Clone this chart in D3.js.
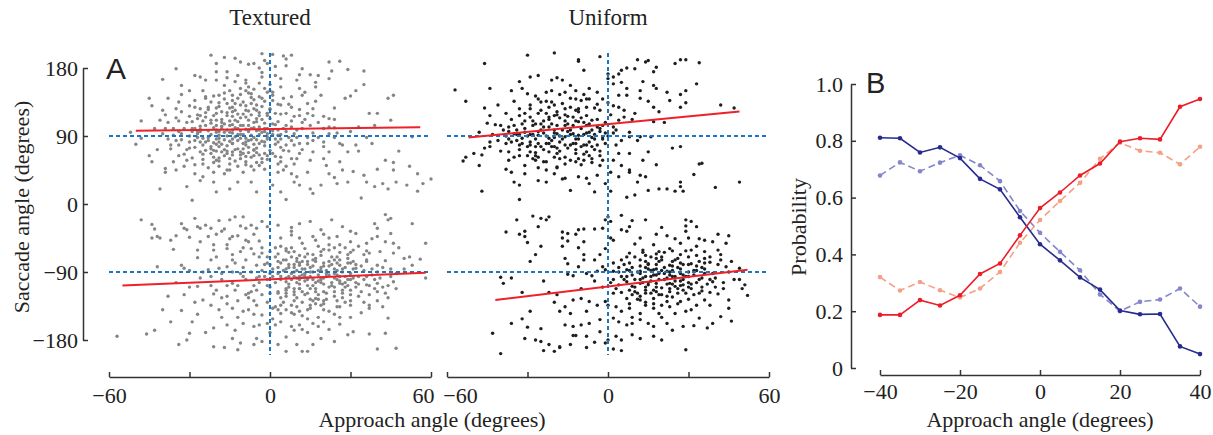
<!DOCTYPE html>
<html>
<head>
<meta charset="utf-8">
<script src="https://cdn.jsdelivr.net/npm/d3@7"></script>
<style>
  html, body { margin: 0; padding: 0; background: #fff; }
  svg { display: block; }
  text { font-family: "Liberation Serif", "Times New Roman", serif; fill: #222; }
  .axis path, .axis line { stroke: #333; stroke-width: 1.5; }
  .axis text { font-size: 22px; font-family: "Liberation Serif", "Times New Roman", serif; fill: #222; }
</style>
</head>
<body>
<svg id="chart" width="1213" height="435"></svg>
<script>
// ---- data ----
const texturedUpper = [[-22,197],[-17,194],[-13,193],[-3,199],[-2,190],[1,198],[5,196],[6,192],[8,197],[-20,186],[-11,188],[-6,186],[-1,186],[6,183],[12,179],[22,188],[26,189],[29,178],[23,176],[35,176],[-35,179],[11,171],[15,171],[-12,170],[-16,167],[-20,164],[-26,168],[-28,170],[-9,164],[-3,168],[4,166],[10,164],[17,161],[22,166],[35,158],[-33,157],[-17,157],[-11,153],[-8,155],[-2,153],[4,155],[11,153],[17,155],[-30,150],[-24,142],[-19,144],[-14,144],[-7,146],[-1,148],[1,144],[8,142],[12,144],[19,144],[30,143],[46,144],[44,140],[-38,140],[-44,130],[-34,135],[-28,137],[-23,128],[-16,133],[-10,135],[-5,131],[0,126],[4,131],[8,128],[14,133],[24,127],[-40,124],[-33,122],[-26,117],[-20,120],[-14,122],[-9,124],[-1,120],[6,120],[11,117],[16,117],[22,113],[37,120],[45,111],[-41,111],[-35,114],[-29,109],[-22,111],[-17,106],[-11,104],[-5,109],[1,106],[6,104],[22,102],[24,101],[33,102],[39,104],[-39,100],[-33,93],[-27,96],[-20,95],[-14,94],[-8,98],[-2,96],[9,93],[16,94],[22,93],[25,94],[53,89],[-50,79],[-48,87],[-35,84],[-30,82],[-25,78],[-19,82],[-14,80],[-9,82],[-4,80],[3,82],[8,84],[14,80],[20,82],[27,78],[32,78],[-45,64],[-37,73],[-34,64],[-26,69],[-21,71],[-16,67],[-11,69],[-6,64],[1,67],[5,71],[11,67],[16,69],[22,69],[29,69],[-44,56],[-39,47],[-31,58],[-25,53],[-20,58],[-15,53],[-9,56],[-4,51],[4,56],[9,53],[15,58],[21,51],[43,58],[46,55],[-39,42],[-35,45],[-28,40],[-21,42],[-16,45],[-10,42],[-6,45],[3,42],[8,40],[14,42],[22,40],[27,45],[31,43],[40,46],[46,45],[-41,20],[-31,23],[-26,31],[-21,29],[-20,16],[-15,20],[-12,29],[-7,29],[-5,16],[1,25],[4,16],[6,6],[9,29],[11,25],[15,20],[16,14],[19,25],[25,27],[29,29],[36,29],[39,23],[42,27],[44,20],[47,29],[51,25],[55,17],[57,27],[60,33],[-29,5],[34,8],
  [-18,100],[-14,98],[-10,92],[-6,88],[-12,84],[-20,86],[-16,90],[-8,96],[-4,102],[-22,92],[-24,104],[-15,110],[-11,114],[-7,118],[-3,112],[-19,76],[-13,72],[-9,78],[-5,74],[-1,86],[1,92],[3,98],[-27,88],[-29,100],[-17,64],[-11,60],[-7,62],[-21,62],[-3,60],[-25,110],[-13,124],[-9,130],[-5,124],[-18,122],[-2,136],[2,120],[4,86],[6,78],[8,110],[10,98],[-30,74],[-34,96],[-38,108],[-10,104],[-14,80],[-16,70],[-8,68],[-20,98],[-26,82],[-12,140],[-6,138],[-15,150],[-9,160],[-3,174],[0,158],[2,170],[12,100],[14,88],[18,108],[20,76],[-23,48],[-17,40],[-12,50],[-2,46],[4,62],[7,132],[-1,100],[-4,92],[-28,128],[-32,66],[-36,56],[6,50],[10,60],[14,120],[17,136],[-19,134],[-24,140],[-22,76],[-6,108],[-14,116],
  [-27,93],[-25,87],[-23,97],[-21,81],[-19,91],[-17,85],[-15,95],[-13,89],[-11,97],[-9,87],[-7,91],[-5,85],[-3,95],[-1,89],[1,97],[3,91],[-26,103],[-24,115],[-22,107],[-20,111],[-18,103],[-16,117],[-14,105],[-12,109],[-10,119],[-8,111],[-6,101],[-4,117],[-2,107],[0,113],[2,105],[4,119],[-28,75],[-24,71],[-22,67],[-20,79],[-18,69],[-16,77],[-14,65],[-12,73],[-10,67],[-8,75],[-6,71],[-4,65],[-2,77],[0,71],[2,63],[4,75],[-25,59],[-21,55],[-19,61],[-13,57],[-9,63],[-5,55],[-1,59],[3,53],[-23,125],[-19,129],[-15,127],[-11,131],[-7,133],[-3,129],[1,137],[-17,139],[-13,133],[-8,147],[-4,142],[0,150],[-21,143],[-27,118],[-31,108],[-33,85],[-36,91],[-31,72],[-29,61],[6,96],[8,102],[10,88],[12,108],[7,70],[9,78],[11,125],[13,112],[5,140],[-40,93],[-43,100],[-37,78],[-39,118],[-12,100],[-16,98],[-20,104],[-8,84],[-4,98],[-24,82],[-18,112],[-6,126],[-2,82],[2,86],[-14,86],[-10,80],[-26,96],[-30,90],[-34,110],[16,126],[20,100],[24,112],[18,88],[26,80],[30,96],[-7,100],[-11,92],[-15,104],[-19,96],[-23,88],[-17,72],[-5,68],[-1,120],[3,132],[-9,150],[-13,162],[-25,150],[-30,130],[-35,126],[-1,64],[-7,50],[-15,45],[5,45],[10,36],[-25,36],[-32,50],[20,60],[26,56],[33,70],[36,88],[40,120],[28,140],[32,150],[13,148],[-4,160],[-20,175],[2,182],[-8,185],[18,170],[-40,165],[-45,140],[-48,110],[-52,95],[38,80],[48,70],[52,50],[55,40],[35,38],[24,35],
  [-26,99],[-23,84],[-21,101],[-19,87],[-17,95],[-15,83],[-13,101],[-11,87],[-9,99],[-7,85],[-5,97],[-3,83],[-1,93],[-24,121],[-20,127],[-16,121],[-12,119],[-8,123],[-4,121],[0,125],[-22,73],[-18,79],[-14,69],[-10,73],[-6,79],[-2,67],[2,79],[-25,66],[-19,57],[-11,65],[-3,55],[-27,113],[-21,117],[-13,111],[-9,115],[-5,113],[-1,117],[3,109],[-17,147],[-11,145],[-6,152],[-22,135],[-14,137],[-7,141],[-29,96],[-32,100],[-30,116],[-34,78],[-28,84],[5,100],[7,88],[9,116],[11,80],[-15,60],[-9,52],[-19,50],[-28,52],[-36,100],[-38,86],[-42,72],[8,60],[12,72],[16,84],[20,116],[24,88],[15,104],[-3,140],[1,148],[-24,164],[-16,175],[-4,180],[-33,145],[-28,100],[-12,92],[-8,104],[-18,108],[-2,100],[4,92],[-6,72],[-14,128],[-20,70],[-26,126]];

const texturedLower = [[-48,-21],[-44,-27],[-43,-33],[-44,-45],[-42,-43],[-37,-48],[-35,-42],[-33,-26],[-32,-32],[-28,-19],[-31,-34],[-27,-30],[-26,-32],[-24,-28],[-22,-32],[-19,-22],[-17,-33],[-15,-21],[-13,-17],[-10,-17],[-11,-29],[-9,-32],[-7,-28],[-5,-32],[-3,-23],[-1,-30],[3,-28],[8,-31],[11,-26],[15,-23],[19,-34],[23,-21],[27,-30],[32,-39],[39,-26],[40,-32],[43,-14],[44,-21],[45,-19],[45,-39],[53,-26],[-23,-43],[-20,-40],[-14,-43],[-12,-42],[-8,-50],[-4,-49],[4,-45],[8,-41],[11,-45],[16,-43],[22,-45],[25,-43],[30,-50],[36,-52],[40,-43],[43,-50],[46,-52],[58,-52],[-27,-61],[-27,-71],[-21,-54],[-21,-61],[-16,-59],[-14,-67],[-11,-63],[-7,-59],[-3,-65],[0,-63],[4,-56],[6,-59],[9,-63],[13,-59],[16,-67],[19,-63],[22,-61],[26,-54],[29,-67],[31,-61],[35,-67],[37,-65],[41,-63],[46,-65],[52,-70],[56,-73],[-42,-83],[-33,-81],[-32,-85],[-23,-87],[-19,-85],[-16,-83],[-13,-78],[-9,-74],[-5,-81],[-1,-78],[3,-76],[6,-74],[10,-72],[11,-81],[14,-76],[17,-72],[20,-78],[24,-74],[26,-81],[29,-78],[32,-85],[36,-76],[40,-81],[43,-75],[53,-81],[-22,-96],[-18,-100],[-14,-105],[-10,-96],[-5,-98],[-1,-100],[4,-96],[6,-103],[9,-96],[11,-100],[14,-98],[19,-100],[24,-98],[26,-105],[30,-100],[36,-107],[40,-105],[46,-103],[58,-98],[-32,-120],[-27,-109],[-25,-127],[-21,-119],[-16,-122],[-13,-114],[-9,-120],[-5,-114],[0,-118],[3,-116],[6,-114],[9,-120],[11,-112],[14,-118],[17,-125],[20,-116],[24,-122],[27,-114],[30,-120],[34,-116],[37,-120],[39,-112],[43,-118],[-33,-141],[-27,-146],[-22,-134],[-19,-140],[-14,-138],[-10,-142],[-5,-134],[-3,-147],[1,-138],[4,-145],[8,-134],[11,-142],[15,-138],[19,-134],[22,-142],[26,-136],[30,-134],[37,-134],[37,-138],[-37,-156],[-29,-156],[-21,-164],[-16,-160],[-13,-167],[-10,-158],[-6,-162],[-1,-158],[4,-156],[9,-167],[11,-160],[16,-158],[20,-156],[26,-159],[31,-169],[44,-151],[43,-171],[-57,-175],[-46,-172],[-43,-167],[-34,-186],[-31,-180],[-30,-171],[-21,-189],[-17,-190],[-12,-193],[-11,-184],[-6,-186],[-5,-178],[-3,-182],[3,-186],[6,-195],[10,-186],[12,-195],[14,-195],[16,-186],[19,-178],[24,-182],[29,-173],[37,-172],[40,-192],[47,-191],[-41,-45],
  [5,-88],[8,-92],[12,-86],[15,-90],[18,-94],[21,-88],[24,-92],[10,-104],[14,-108],[17,-112],[20,-106],[7,-110],[3,-84],[0,-92],[-3,-88],[11,-78],[16,-82],[22,-76],[27,-86],[30,-92],[33,-96],[13,-120],[9,-128],[17,-132],[4,-124],[-1,-130],[6,-140],[12,-148],[20,-140],[25,-128],[28,-110],[35,-88],[38,-94],[2,-104],[-6,-108],[-10,-84],[-14,-90],[-4,-70],[3,-66],[8,-58],[14,-66],[20,-60],[25,-70],[30,-78],[11,-96],[16,-100],[19,-84],[23,-104],[6,-98],[13,-92],[9,-80],[26,-96],[32,-104],[36,-74],[40,-90],[-8,-124],[-12,-150],[1,-152],[8,-162],[-18,-124],[-20,-70],[-26,-50],[-15,-46],[42,-84],[45,-96],
  [6,-86],[9,-90],[12,-94],[15,-84],[18,-88],[21,-96],[24,-86],[27,-90],[4,-100],[7,-106],[10,-98],[13,-102],[16,-108],[19,-98],[22,-110],[25,-100],[28,-104],[31,-98],[5,-74],[8,-70],[11,-68],[14,-80],[17,-76],[20,-82],[23,-70],[26,-74],[29,-72],[32,-80],[3,-118],[6,-122],[9,-116],[12,-130],[15,-126],[18,-120],[21,-126],[24,-116],[27,-124],[30,-114],[1,-86],[-2,-96],[-4,-104],[-7,-90],[-9,-100],[-12,-108],[0,-110],[-3,-120],[-6,-128],[2,-136],[8,-144],[14,-140],[18,-150],[24,-146],[28,-130],[33,-122],[35,-100],[38,-86],[41,-98],[44,-108],[47,-92],[50,-86],[36,-62],[33,-56],[28,-58],[22,-54],[17,-48],[12,-52],[7,-64],[2,-58],[-1,-70],[-6,-66],[-10,-58],[-14,-74],[-18,-92],[-22,-108],[-26,-98],[-30,-88],[-35,-104],[-38,-122],[-40,-140],[-18,-150],[-8,-140],[-4,-160],[-14,-178],[0,-170],[6,-176],[14,-170],[22,-166],[-24,-170],[-28,-130],[-36,-60],[-30,-44],[-18,-36],[-6,-40],[8,-36],[20,-40],[30,-36],[38,-46],[48,-58],[50,-72],[42,-136],[34,-144],[26,-150],[4,-134],[10,-136],[16,-128],[20,-132],[13,-86],[19,-104],[23,-80],[11,-112],[7,-96],[17,-116],[27,-106],[31,-86],[25,-94],[29,-100],[15,-96],[9,-84],[3,-92],[21,-92],[18,-102],[12,-76],[26,-64],[6,-112],[32,-110],[37,-108],[40,-116],[44,-124],[47,-112],[-2,-80],[-8,-118],[-12,-128],[-16,-108],[-20,-114],
  [7,-84],[10,-88],[13,-96],[16,-90],[19,-88],[22,-94],[25,-88],[28,-96],[8,-100],[11,-106],[14,-100],[17,-104],[20,-98],[23,-108],[26,-102],[29,-108],[6,-118],[9,-112],[12,-116],[15,-112],[18,-126],[21,-118],[24,-110],[27,-118],[4,-78],[7,-80],[10,-76],[13,-70],[16,-74],[19,-68],[22,-82],[25,-78],[28,-84],[31,-76],[34,-82],[5,-130],[10,-124],[15,-134],[20,-128],[25,-136],[30,-128],[1,-96],[-1,-108],[-4,-96],[-7,-116],[-11,-92],[0,-80],[3,-140],[9,-146],[14,-152],[33,-106],[36,-96],[39,-100],[42,-110],[45,-86],[2,-70],[6,-62],[18,-56],[24,-58],[30,-64],[-3,-58],[-9,-48],[-16,-54],[-22,-74],[-25,-90],[-30,-110],[-16,-132],[-6,-146],[2,-160],[12,-166],[18,-162],[30,-150],[35,-130],[40,-128]];

const uniformUpper = [[-30,197],[-20,200],[-11,191],[-11,189],[-9,177],[-3,195],[-46,186],[-57,151],[-53,136],[-44,153],[-29,168],[-26,170],[-33,162],[-21,164],[-19,167],[-17,164],[-14,157],[-32,153],[-30,146],[-36,150],[-23,148],[-21,150],[-16,148],[-12,150],[-7,153],[-4,148],[-2,139],[0,172],[0,166],[2,168],[4,172],[5,177],[7,180],[10,179],[11,191],[14,188],[15,190],[18,181],[17,175],[2,159],[5,161],[7,153],[7,144],[4,144],[13,162],[17,157],[18,153],[12,150],[22,148],[27,191],[29,191],[34,187],[25,186],[27,145],[29,150],[33,159],[23,137],[27,128],[29,134],[12,140],[15,136],[17,128],[19,122],[17,109],[21,108],[42,131],[47,127],[-46,127],[-41,131],[-44,117],[-45,107],[-42,105],[-38,120],[-33,126],[-29,131],[-26,139],[-25,135],[-21,135],[-20,131],[-17,133],[-14,128],[-12,139],[-10,137],[-8,139],[-7,139],[-5,127],[0,134],[2,130],[4,128],[-3,124],[-8,117],[-11,122],[-13,115],[-16,118],[-20,117],[-22,115],[-26,120],[-29,115],[-33,117],[-35,104],[-32,106],[-37,102],[-34,98],[-31,95],[-28,104],[-25,98],[-22,102],[-20,98],[-16,104],[-14,98],[-11,109],[-8,104],[-6,111],[-4,102],[-2,104],[2,102],[4,111],[6,115],[9,112],[10,120],[8,95],[8,89],[2,94],[-2,89],[-5,92],[-7,95],[-11,91],[-13,93],[-16,89],[-19,93],[-22,87],[-26,91],[-28,92],[-32,87],[-35,93],[-38,90],[11,84],[12,89],[16,89],[-38,80],[-36,82],[-33,78],[-29,82],[-27,76],[-23,80],[-20,76],[-18,82],[-16,78],[-12,80],[-9,78],[-7,82],[-4,78],[-1,80],[3,78],[-46,74],[-44,76],[-50,67],[-47,65],[-53,62],[-54,57],[-37,69],[-33,64],[-29,69],[-26,62],[-22,69],[-19,67],[-16,62],[-12,67],[-8,69],[-6,60],[-3,64],[4,67],[8,67],[15,69],[24,74],[27,76],[-48,51],[-38,46],[-37,58],[-31,51],[-27,58],[-23,56],[-19,49],[-16,53],[-12,56],[-9,58],[-6,55],[-3,51],[2,58],[5,51],[8,45],[13,58],[18,52],[34,53],[35,54],[-36,42],[-23,45],[-19,48],[-16,34],[-11,36],[-8,34],[-4,38],[1,42],[4,36],[8,42],[12,38],[14,36],[27,29],[27,23],[32,39],[49,29],[-35,29],[-33,25],[-26,31],[-23,29],[-17,33],[-14,18],[-7,27],[-5,16],[-1,27],[1,17],[7,9],[10,12],[11,29],[15,18],[19,20],[22,20],[25,17],[28,17],[40,22],[-47,17],[-33,6],
  [-30,90],[-27,86],[-24,94],[-21,84],[-18,90],[-15,96],[-12,86],[-9,92],[-6,88],[-3,96],[-31,100],[-28,110],[-25,106],[-22,112],[-19,104],[-16,110],[-13,104],[-10,114],[-7,106],[-4,112],[-1,108],[-33,72],[-30,76],[-27,68],[-24,72],[-21,76],[-18,70],[-15,74],[-12,72],[-9,66],[-6,76],[-3,70],[-25,124],[-22,128],[-19,122],[-16,126],[-12,124],[-8,128],[-4,132],[-28,60],[-24,56],[-20,62],[-14,58],[-10,52],[-36,112],[-39,98],[-41,84],[-43,92],[-40,70],[-34,84],[-31,120],[-35,136],[-27,143],[-18,145],[-9,145],[0,90],[3,98],[5,84],[1,118],[-2,58],[-26,48],[-31,40],[-20,40],[6,124],[-14,140],[-23,136],[-29,126],[-10,100],[-17,98],[-24,102],[-20,88],[-13,80],[-6,98],[-33,92],[-37,86],[-8,78],[-2,86],[-15,116],[-26,80],[-11,60],[-30,64],[-35,62],[-44,82],[-48,95],
  [-29,92],[-26,96],[-23,90],[-20,94],[-17,86],[-14,92],[-11,86],[-8,94],[-5,86],[-27,106],[-24,110],[-21,106],[-18,114],[-15,106],[-12,110],[-9,108],[-29,78],[-25,76],[-22,80],[-19,74],[-14,78],[-10,76],[-5,72],[-31,110],[-34,92],[-37,96],[-23,120],[-19,118],[-11,126],[-27,64],[-18,60],[-7,64],[-3,100],[-1,94],[-32,80],[-40,104]];

const uniformLower = [[-34,-21],[-28,-16],[-26,-30],[-23,-21],[-22,-17],[-25,-19],[-38,-37],[-33,-40],[-31,-36],[-31,-43],[-30,-51],[-25,-56],[-27,-67],[-29,-76],[-40,-97],[-39,-105],[-36,-98],[-43,-171],[-40,-198],[-32,-117],[-24,-102],[-22,-117],[-29,-142],[-32,-152],[-36,-158],[-30,-163],[-31,-178],[-27,-180],[-25,-182],[-24,-194],[-20,-195],[-18,-189],[-22,-186],[-17,-37],[-17,-45],[-15,-39],[-15,-49],[-17,-56],[-12,-40],[-11,-34],[-9,-33],[-11,-58],[-9,-50],[-5,-33],[-2,-32],[-1,-21],[0,-17],[1,-23],[5,-15],[5,-34],[7,-36],[8,-30],[9,-22],[14,-21],[20,-31],[29,-21],[31,-23],[29,-29],[33,-30],[29,-36],[-16,-72],[-15,-79],[-11,-83],[-9,-67],[-9,-74],[-5,-74],[-3,-67],[-1,-59],[1,-45],[2,-48],[-15,-93],[-13,-95],[-8,-92],[-6,-95],[-4,-89],[-2,-83],[-1,-87],[2,-89],[4,-84],[5,-74],[7,-70],[8,-65],[10,-53],[12,-45],[13,-61],[17,-54],[18,-40],[22,-42],[25,-46],[27,-52],[30,-45],[34,-46],[36,-48],[39,-50],[41,-40],[45,-42],[44,-52],[31,-61],[33,-56],[36,-63],[41,-61],[42,-67],[19,-63],[23,-59],[27,-67],[12,-74],[15,-79],[18,-72],[20,-74],[23,-81],[25,-74],[28,-80],[31,-79],[35,-84],[38,-77],[41,-80],[44,-83],[46,-76],[49,-85],[7,-87],[9,-94],[12,-89],[14,-96],[17,-87],[18,-94],[22,-89],[24,-96],[27,-92],[30,-96],[32,-94],[35,-98],[39,-103],[43,-104],[49,-100],[51,-107],[50,-112],[52,-121],[2,-100],[4,-107],[7,-103],[9,-109],[12,-105],[15,-107],[18,-105],[20,-111],[23,-105],[25,-109],[28,-107],[31,-112],[35,-115],[38,-117],[41,-119],[45,-127],[45,-138],[46,-155],[42,-149],[39,-158],[37,-164],[2,-118],[5,-117],[7,-125],[9,-120],[12,-127],[14,-118],[17,-125],[19,-120],[22,-129],[24,-123],[27,-129],[30,-126],[33,-134],[36,-127],[38,-134],[-1,-129],[0,-134],[3,-136],[5,-142],[8,-138],[12,-145],[14,-134],[17,-138],[19,-145],[23,-136],[25,-145],[29,-142],[34,-151],[-7,-129],[-4,-134],[-8,-142],[-14,-145],[-18,-142],[-16,-136],[-13,-127],[-10,-125],[-19,-120],[9,-158],[12,-153],[15,-158],[17,-162],[22,-158],[24,-167],[28,-162],[32,-161],[4,-156],[7,-160],[2,-151],[-3,-153],[-7,-158],[-10,-160],[-13,-162],[-16,-160],[-8,-175],[-3,-169],[0,-180],[3,-175],[5,-180],[9,-173],[12,-178],[17,-175],[20,-180],[29,-193],[-1,-184],[2,-192],[5,-194],[-13,-174],[-12,-174],[-18,-190],[-14,-186],[-5,-183],
  [12,-82],[15,-86],[18,-80],[21,-84],[24,-88],[27,-78],[13,-98],[16,-102],[19,-92],[22,-98],[25,-102],[28,-94],[10,-110],[14,-114],[18,-116],[23,-112],[30,-104],[33,-88],[36,-92],[8,-78],[5,-96],[3,-112],[11,-126],[17,-132],[26,-118],[20,-70],[24,-62],[14,-68],[30,-70],[34,-76],
  [6,-80],[9,-84],[12,-92],[15,-80],[18,-86],[21,-92],[24,-82],[27,-86],[30,-90],[33,-82],[36,-86],[39,-92],[7,-96],[10,-100],[13,-104],[16,-96],[19,-100],[22,-106],[25,-96],[28,-100],[31,-106],[34,-100],[37,-106],[40,-98],[8,-114],[11,-118],[14,-110],[17,-114],[20,-120],[23,-116],[26,-112],[29,-118],[32,-120],[35,-110],[10,-70],[13,-64],[16,-70],[21,-64],[26,-72],[29,-62],[33,-68],[38,-70],[42,-74],[45,-90],[47,-100],[43,-112],[4,-90],[1,-104],[2,-78],[-2,-110],[-5,-102],[8,-132],[14,-130],[20,-134],[26,-132],[31,-140],[16,-88],[23,-94],[19,-76],[27,-108],[12,-122],[36,-78],[9,-150],[20,-150],[-10,-112],[-20,-130],[-25,-165],[-8,-190],
  [11,-90],[14,-84],[17,-94],[20,-88],[23,-90],[26,-84],[29,-96],[32,-88],[12,-100],[15,-104],[18,-110],[21,-100],[24,-106],[27,-102],[30,-110],[33,-104],[10,-116],[16,-118],[22,-122],[28,-114],[34,-118],[14,-76],[18,-66],[24,-76],[30,-80],[36,-72],[6,-100],[8,-88],[38,-100],[40,-110]];

// regression lines: [x0, y0, x1, y1]
const texturedFits = [[-50, 97, 56, 101.5], [-55, -108, 58, -91]];
const uniformFits = [[-52, 88, 49, 122.5], [-42, -127, 52, -87]];

// panel B
const approach = [-40, -35, -30, -25, -20, -15, -10, -5, 0, 5, 10, 15, 20, 25, 30, 35, 40];
const blueSolid = [0.811, 0.809, 0.759, 0.777, 0.739, 0.666, 0.629, 0.531, 0.436, 0.379, 0.319, 0.276, 0.202, 0.189, 0.190, 0.076, 0.049];
const blueDashed = [0.678, 0.724, 0.693, 0.723, 0.749, 0.714, 0.658, 0.553, 0.476, 0.409, 0.344, 0.259, 0.200, 0.233, 0.241, 0.280, 0.216];
const redSolid = [0.187, 0.187, 0.239, 0.220, 0.256, 0.331, 0.368, 0.467, 0.563, 0.618, 0.678, 0.720, 0.797, 0.809, 0.805, 0.920, 0.947];
const redDashed = [0.320, 0.273, 0.303, 0.274, 0.248, 0.280, 0.338, 0.441, 0.521, 0.588, 0.652, 0.737, 0.793, 0.765, 0.758, 0.717, 0.779];

const saccadeTicks = [-180, -90, 0, 90, 180];
const approachTicksA = [-60, -30, 0, 30, 60];
const approachLabelsA = [-60, 0, 60];
const approachTicksB = [-40, -20, 0, 20, 40];
const probTicks = [0, 0.2, 0.4, 0.6, 0.8, 1.0];

// ---- drawing ----
const svg = d3.select('#chart');
const blue = '#1a76c2';
const red = '#ee2129';
const fmt = d3.format('');

const yA = d3.scaleLinear().domain([-180, 180]).range([340, 68]);
const xT = d3.scaleLinear().domain([-60, 60]).range([109, 431]);
const xU = d3.scaleLinear().domain([-60, 60]).range([447, 769]);

function styleAxis(g) {
  g.attr('class', 'axis');
  g.select('.domain').attr('fill', 'none');
}

svg.append('g').attr('transform', 'translate(83,0)')
  .call(d3.axisLeft(yA).tickValues(saccadeTicks).tickSizeInner(-5).tickSizeOuter(0).tickPadding(5).tickFormat(fmt))
  .call(styleAxis);

// labelShift nudges the end labels so the two panels' "60" and "-60" don't collide
function scatterPanel(x, upper, lower, fits, color, title, labelShift) {
  [upper, lower].forEach(pts => {
    svg.append('g').selectAll('circle').data(pts).join('circle')
      .attr('cx', d => x(d[0])).attr('cy', d => yA(d[1]))
      .attr('r', 1.7).attr('fill', color);
  });
  [90, -90].forEach(v => {
    svg.append('line')
      .attr('x1', x(-60)).attr('x2', x(60)).attr('y1', yA(v)).attr('y2', yA(v))
      .attr('stroke', blue).attr('stroke-width', 2).attr('stroke-dasharray', '4,3');
  });
  svg.append('line')
    .attr('x1', x(0)).attr('x2', x(0)).attr('y1', yA(200)).attr('y2', yA(-200))
    .attr('stroke', blue).attr('stroke-width', 2).attr('stroke-dasharray', '4,3');
  fits.forEach(f => {
    svg.append('line')
      .attr('x1', x(f[0])).attr('y1', yA(f[1])).attr('x2', x(f[2])).attr('y2', yA(f[3]))
      .attr('stroke', red).attr('stroke-width', 2);
  });
  const ax = svg.append('g').attr('transform', 'translate(0,377)')
    .call(d3.axisBottom(x).tickValues(approachTicksA).tickSizeInner(-5).tickSizeOuter(0).tickPadding(10)
      .tickFormat(d => approachLabelsA.includes(d) ? fmt(d) : ''))
    .call(styleAxis);
  ax.selectAll('.tick text').attr('dx', d => labelShift[d] || 0);
  svg.append('text').attr('x', x(0)).attr('y', 25).attr('text-anchor', 'middle')
    .attr('font-size', 23).text(title);
}

scatterPanel(xT, texturedUpper, texturedLower, texturedFits, '#858585', 'Textured', { 60: -8 });
scatterPanel(xU, uniformUpper, uniformLower, uniformFits, '#1e1e1e', 'Uniform', { '-60': 13 });

svg.append('text').attr('transform', 'translate(29,207) rotate(-90)')
  .attr('text-anchor', 'middle').attr('font-size', 22).text('Saccade angle (degrees)');
svg.append('text').attr('x', 432).attr('y', 427).attr('text-anchor', 'middle')
  .attr('font-size', 22).text('Approach angle (degrees)');
svg.append('text').attr('x', 106).attr('y', 79).attr('font-size', 30)
  .style('font-family', '"Liberation Sans", Arial, sans-serif').text('A');

// panel B
const xB = d3.scaleLinear().domain([-40, 40]).range([880, 1200]);
const yB = d3.scaleLinear().domain([0, 1]).range([368, 84]);

svg.append('g').attr('transform', 'translate(851,0)')
  .call(d3.axisLeft(yB).tickValues(probTicks).tickSizeInner(-5).tickSizeOuter(0).tickPadding(8)
    .tickFormat(d => d === 0 ? '0' : d.toFixed(1)))
  .call(styleAxis);
svg.append('g').attr('transform', 'translate(0,375)')
  .call(d3.axisBottom(xB).tickValues(approachTicksB).tickSizeInner(-5).tickSizeOuter(0).tickPadding(8).tickFormat(fmt))
  .call(styleAxis);

const series = [
  { values: blueDashed, color: '#8585cc', dash: '7,4' },
  { values: redDashed, color: '#f5a085', dash: '7,4' },
  { values: blueSolid, color: '#262b8e', dash: null },
  { values: redSolid, color: '#ec1d27', dash: null }
];
const lineB = d3.line().x((d, i) => xB(approach[i])).y(d => yB(d));
series.forEach(s => {
  svg.append('path').datum(s.values).attr('d', lineB)
    .attr('fill', 'none').attr('stroke', s.color).attr('stroke-width', 1.6)
    .attr('stroke-dasharray', s.dash);
  svg.append('g').selectAll('circle').data(s.values).join('circle')
    .attr('cx', (d, i) => xB(approach[i])).attr('cy', d => yB(d))
    .attr('r', 2.3).attr('fill', s.color);
});

svg.append('text').attr('transform', 'translate(806,227) rotate(-90)')
  .attr('text-anchor', 'middle').attr('font-size', 22).text('Probability');
svg.append('text').attr('x', 1040).attr('y', 427).attr('text-anchor', 'middle')
  .attr('font-size', 22).text('Approach angle (degrees)');
svg.append('text').attr('x', 866).attr('y', 93).attr('font-size', 29)
  .style('font-family', '"Liberation Sans", Arial, sans-serif').text('B');
</script>
</body>
</html>
